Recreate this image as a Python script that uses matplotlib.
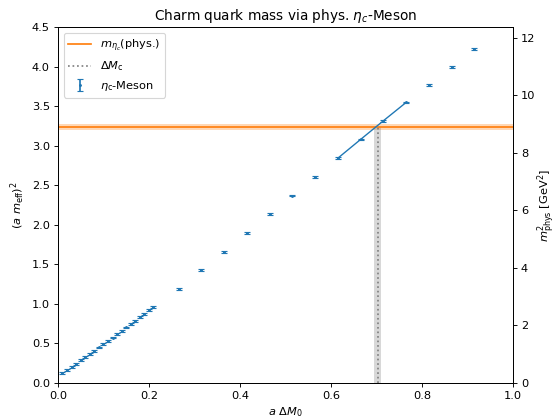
import numpy as np
import matplotlib
matplotlib.use("Agg")
import matplotlib.pyplot as plt

# eta_c effective mass squared vs bare quark mass
dm_dense = [0.01, 0.02, 0.03, 0.04, 0.05, 0.06, 0.07, 0.08, 0.09, 0.10, 0.11,
            0.12, 0.13, 0.14, 0.15, 0.16, 0.17, 0.18, 0.19, 0.20, 0.21]
m2_dense = [0.123, 0.163, 0.203, 0.244, 0.285, 0.326, 0.367, 0.408, 0.449, 0.491,
            0.533, 0.575, 0.617, 0.659, 0.702, 0.745, 0.788, 0.831, 0.875, 0.919, 0.964]
dm_sparse = [0.265, 0.315, 0.365, 0.415, 0.465, 0.515, 0.565, 0.615, 0.665,
             0.715, 0.765, 0.815, 0.865, 0.915]
m2_sparse = [1.19, 1.427, 1.662, 1.899, 2.135, 2.371, 2.607, 2.843, 3.08,
             3.316, 3.548, 3.772, 4.0, 4.224]
err = 0.012

# fit range (points 0.615 .. 0.765)
fit_lo, fit_hi = 7, 11

m2_phys = 3.24       # (a m_eta_c)^2
m2_phys_err = 0.04
dMc = 0.703
dMc_err = 0.008
scale = 2.748        # a^-2 in GeV^2

x = np.array(dm_dense + dm_sparse)
y = np.array(m2_dense + m2_sparse)

dpi = 82
fig = plt.figure(figsize=(557 / dpi, 419 / dpi), dpi=dpi)
ax = fig.add_axes([0.104, 0.086, 0.817, 0.849])

ax.axhline(m2_phys, color='C1', lw=1.5, label=r'$m_{\eta_c}$(phys.)')
ax.axhspan(m2_phys - m2_phys_err, m2_phys + m2_phys_err, color='C1', alpha=0.3, lw=0)
ax.vlines(dMc, 0, m2_phys, color='grey', ls=':', lw=1.5, label=r'$\Delta M_\mathrm{c}$')
ax.fill_between([dMc - dMc_err, dMc + dMc_err], 0, m2_phys, color='grey', alpha=0.3, lw=0)
ax.errorbar(x, y, yerr=err, fmt='.', ms=3, capsize=2.5, color='C0', label=r'$\eta_\mathrm{c}$-Meson')
ax.plot(dm_sparse[fit_lo:fit_hi], m2_sparse[fit_lo:fit_hi], color='C0', lw=1.2)

ax.set_xlim(0, 1)
ax.set_ylim(0, 4.5)
ax.set_xlabel(r'$a\ \Delta M_0$')
ax.set_ylabel(r'$(a\ m_{\mathrm{eff}})^2$')
ax.set_title(r'Charm quark mass via phys. $\eta_c$-Meson')
ax.legend(loc='upper left')

ax2 = ax.twinx()
ax2.set_ylim(0, 4.5 * scale)
ax2.set_ylabel(r'$m^2_{\mathrm{phys}}$ [GeV$^2$]', labelpad=0)

fig.savefig('out.png', dpi=dpi)
